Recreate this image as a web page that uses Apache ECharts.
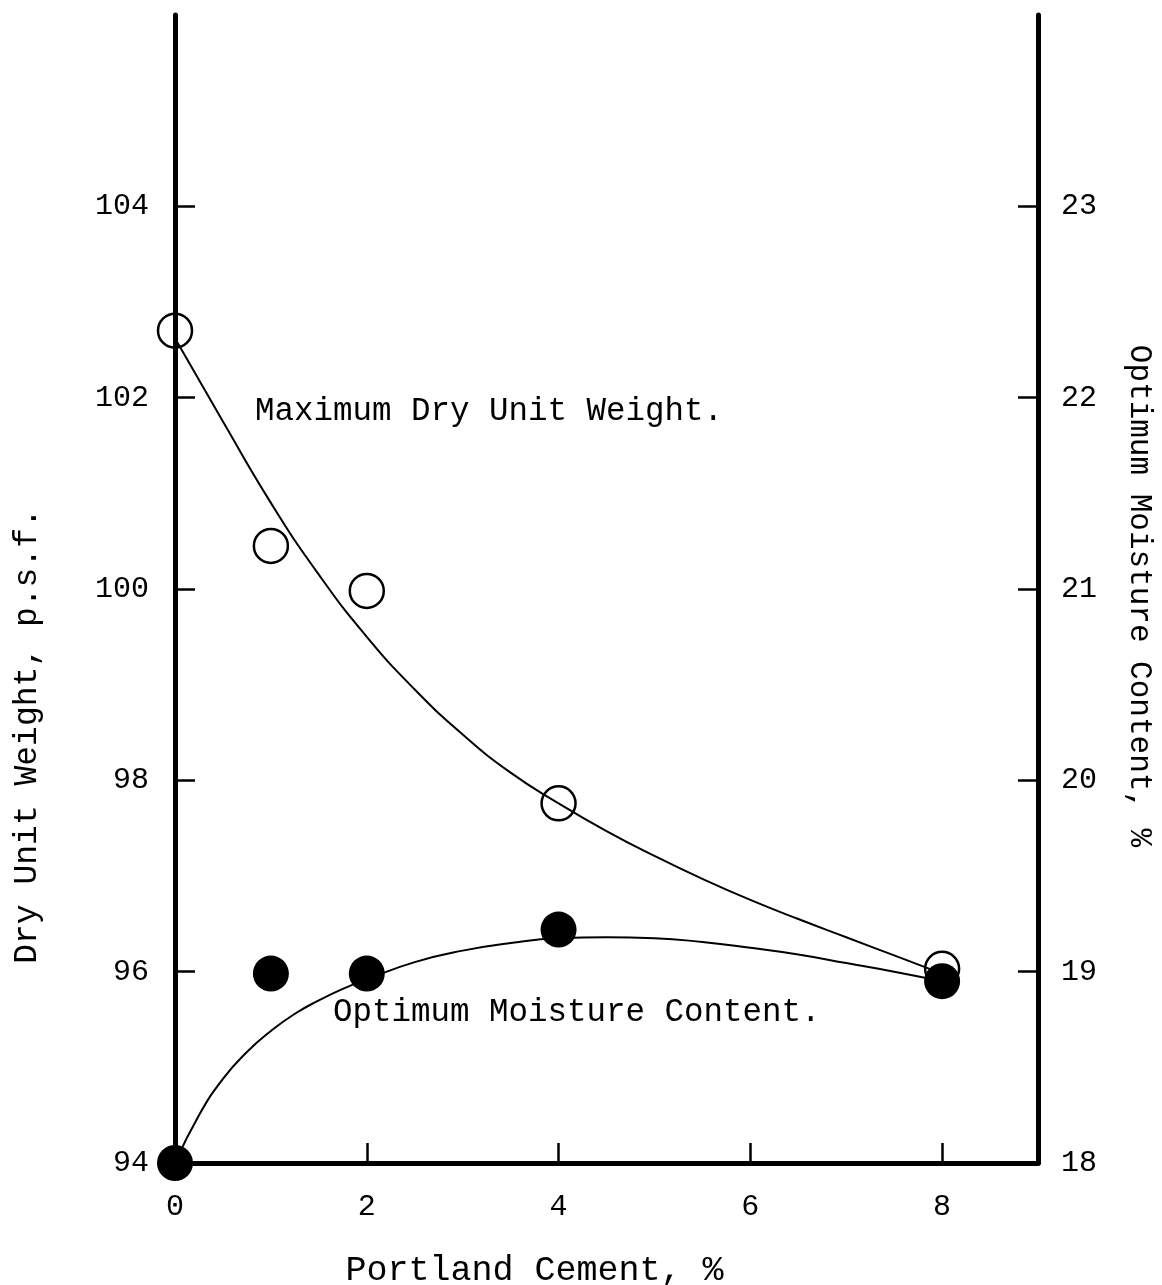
<!DOCTYPE html>
<html>
<head>
<meta charset="utf-8">
<script src="https://cdn.jsdelivr.net/npm/echarts@6/dist/echarts.min.js"></script>
<style>
html,body{margin:0;padding:0;background:#fff;}
#chart{width:1162px;height:1285px;}
</style>
</head>
<body>
<div id="chart"></div>
<script>
// Data
const xTicks = [0, 2, 4, 6, 8];
const leftTicks = [94, 96, 98, 100, 102, 104];
const rightTicks = [18, 19, 20, 21, 22, 23];

const cementPct = [0, 1, 2, 4, 8];
const maxDryUnitWeight = [102.7, 100.45, 99.98, 97.76, 96.03];
const optMoisture = [18.0, 18.99, 18.99, 19.22, 18.95];

// hand-drawn fitted curves
const maxDryCurveX = [0, 0.5, 1, 1.5, 2, 2.5, 3, 3.5, 4, 4.5, 5, 5.5, 6, 6.5, 7, 7.5, 8];
const maxDryCurveY = [102.62, 101.75, 100.9, 100.15, 99.5, 98.95, 98.48, 98.08, 97.76, 97.47, 97.21, 96.97, 96.75, 96.55, 96.36, 96.17, 95.98];

const moistCurveX = [0, 0.25, 0.5, 0.75, 1, 1.25, 1.5, 1.75, 2, 2.5, 3, 3.5, 4, 4.5, 5, 5.5, 6, 6.5, 7, 7.5, 8];
const moistCurveY = [18.0, 18.25, 18.44, 18.58, 18.69, 18.78, 18.85, 18.91, 18.96, 19.05, 19.11, 19.15, 19.175, 19.18, 19.175, 19.155, 19.125, 19.09, 19.045, 19.0, 18.95];

const zip = (a, b) => a.map((v, i) => [v, b[i]]);

const FONT = '"Liberation Mono", "DejaVu Sans Mono", monospace';
const INK = '#000';

const chart = echarts.init(document.getElementById('chart'));
chart.setOption({
  backgroundColor: '#fff',
  animation: false,
  grid: { left: 175, right: 124, top: 15, bottom: 122, containLabel: false, outerBoundsMode: 'none' },
  xAxis: {
    type: 'value', min: 0, max: 9,
    name: 'Portland Cement, %', nameLocation: 'middle', nameGap: 90,
    nameTextStyle: { fontFamily: FONT, fontSize: 35, color: INK, padding: [0, 144, 0, 0] },
    axisLine: { show: true, onZero: false, lineStyle: { color: INK, width: 5 } },
    axisTick: { show: true, inside: true, length: 20, lineStyle: { color: INK, width: 2.5 }, customValues: xTicks },
    axisLabel: { customValues: xTicks, fontFamily: FONT, fontSize: 30, color: INK, margin: 29 },
    splitLine: { show: false }
  },
  yAxis: [
    {
      type: 'value', min: 94, max: 106, position: 'left',
      name: 'Dry Unit Weight, p.s.f.', nameLocation: 'middle', nameGap: 131, nameRotate: 90,
      nameTextStyle: { fontFamily: FONT, fontSize: 33, color: INK, padding: [0, 294, 0, 0] },
      axisLine: { show: true, onZero: false, lineStyle: { color: INK, width: 5 } },
      axisTick: { show: true, inside: true, length: 20, lineStyle: { color: INK, width: 2.5 }, customValues: leftTicks },
      axisLabel: { customValues: leftTicks, fontFamily: FONT, fontSize: 30, color: INK, margin: 26 },
      splitLine: { show: false }
    },
    {
      type: 'value', min: 18, max: 24, position: 'right',
      name: 'Optimum Moisture Content, %', nameLocation: 'middle', nameGap: 86, nameRotate: -90,
      nameTextStyle: { fontFamily: FONT, fontSize: 31, color: INK, padding: [0, 0, 0, 14] },
      axisLine: { show: true, onZero: false, lineStyle: { color: INK, width: 5 } },
      axisTick: { show: true, inside: true, length: 20, lineStyle: { color: INK, width: 2.5 }, customValues: rightTicks },
      axisLabel: { customValues: rightTicks, fontFamily: FONT, fontSize: 30, color: INK, margin: 23 },
      splitLine: { show: false }
    }
  ],
  series: [
    {
      type: 'line', name: 'Maximum Dry Unit Weight curve', yAxisIndex: 0,
      data: zip(maxDryCurveX, maxDryCurveY), smooth: 0.5, showSymbol: false, symbol: 'none',
      lineStyle: { color: INK, width: 2 }, clip: false, z: 2
    },
    {
      type: 'line', name: 'Optimum Moisture Content curve', yAxisIndex: 1,
      data: zip(moistCurveX, moistCurveY), smooth: 0.5, showSymbol: false, symbol: 'none',
      lineStyle: { color: INK, width: 2 }, clip: false, z: 2
    },
    {
      type: 'scatter', name: 'Maximum Dry Unit Weight', yAxisIndex: 0,
      data: zip(cementPct, maxDryUnitWeight), symbol: 'circle', symbolSize: 34,
      itemStyle: { color: 'rgba(255,255,255,0)', borderColor: '#000', borderWidth: 2.5, opacity: 1 },
      clip: false, z: 3
    },
    {
      type: 'scatter', name: 'Optimum Moisture Content', yAxisIndex: 1,
      data: zip(cementPct, optMoisture), symbol: 'circle', symbolSize: 36,
      itemStyle: { color: '#000', opacity: 1 },
      clip: false, z: 4
    }
  ],
  graphic: [
    { type: 'text', left: 255, top: 395, style: { text: 'Maximum Dry Unit Weight.', font: '32.5px ' + FONT, fill: INK } },
    { type: 'text', left: 333, top: 996, style: { text: 'Optimum Moisture Content.', font: '32.5px ' + FONT, fill: INK } }
  ]
});
</script>
</body>
</html>
